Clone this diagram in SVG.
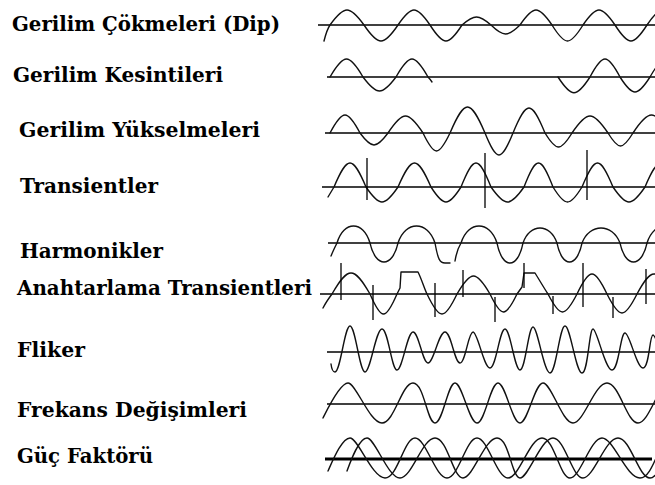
<svg xmlns="http://www.w3.org/2000/svg" width="655" height="485" viewBox="0 0 655 485">
<style>
.lbl{font-family:"DejaVu Serif","Liberation Serif",serif;font-weight:bold;font-size:20px;fill:#000}
.ax{stroke:#000;stroke-width:1.5;fill:none}
.w{stroke:#111;stroke-width:1.4;fill:none;stroke-linejoin:round;stroke-linecap:round}
.tk{stroke:#000;stroke-width:1.3}
</style>
<rect width="655" height="485" fill="#fff"/>

<g id="dip">
<text class="lbl" x="12" y="31" textLength="268" lengthAdjust="spacingAndGlyphs">Gerilim Çökmeleri (Dip)</text>
<line class="ax" x1="318" y1="25" x2="655" y2="25"/>
<path class="w" d="M324 41 C326 33 328 28 330 25 C344.4 5 349.6 5 364 25 C378.4 46.3 383.6 46.3 398 25 C411.6 5 416.4 5 430 25 C443.6 46.3 448.4 46.3 462 25 C474.3 14.3 478.7 14.3 491 25 C503.3 37 507.7 37 520 25 C533.6 5 538.4 5 552 25 C565.2 46.3 569.8 46.3 583 25 C596.6 5 601.4 5 615 25 C628.6 46.3 633.4 46.3 647 25 C660.6 5 665.4 5 679 25"/>
</g>

<g id="kesinti">
<text class="lbl" x="13" y="82" textLength="210" lengthAdjust="spacingAndGlyphs">Gerilim Kesintileri</text>
<line class="ax" x1="327" y1="77" x2="655" y2="77"/>
<path class="w" d="M330 77 C344 53 349 53 363 77 C377 95.7 382 95.7 396 77 C409.6 53 414.4 53 428 77 Q430 79 432 82"/>
<path class="w" d="M558 77 C571.6 98 576.4 98 590 77 C602.7 53 607.3 53 620 77 C632.7 97 637.3 97 650 77 C663.6 53 668.4 53 682 77"/>
</g>

<g id="yukselme">
<text class="lbl" x="19" y="137" textLength="241" lengthAdjust="spacingAndGlyphs">Gerilim Yükselmeleri</text>
<line class="ax" x1="325" y1="133" x2="655" y2="133"/>
<path class="w" d="M330 133 C342.7 109 347.3 109 360 133 C371.9 149 376.1 149 388 133 C402.9 110.3 408.1 110.3 423 133 C434.5 157 438.5 157 450 133 C464.9 98.3 470.1 98.3 485 133 C496.9 162.3 501.1 162.3 513 133 C526.6 99.7 531.4 99.7 545 133 C556.5 151.7 560.5 151.7 572 133 C587.3 110.3 592.7 110.3 608 133 C618.6 150.3 622.4 150.3 633 133 C648.7 109 654.3 109 670 133"/>
</g>

<g id="transient">
<text class="lbl" x="20" y="193" textLength="138" lengthAdjust="spacingAndGlyphs">Transientler</text>
<line class="ax" x1="322" y1="187" x2="655" y2="187"/>
<path class="w" d="M328 197 L334 187 C347.6 155 352.4 155 366 187 C379.6 207 384.4 207 398 187 C412 155 417 155 431 187 C443.7 207 448.3 207 461 187 C473.7 155 478.3 155 491 187 C505 207 510 207 524 187 C536.3 155 540.7 155 553 187 C565.3 207 569.7 207 582 187 C595.2 155 599.8 155 613 187 C626.6 207 631.4 207 645 187 C658.6 155 663.4 155 677 187"/>
<line class="tk" x1="367" y1="158" x2="367" y2="200"/>
<line class="tk" x1="485" y1="153" x2="485" y2="208"/>
<line class="tk" x1="587" y1="150" x2="587" y2="200"/>
</g>

<g id="harmonik">
<text class="lbl" x="20" y="258" textLength="143" lengthAdjust="spacingAndGlyphs">Harmonikler</text>
<line class="ax" x1="328" y1="243" x2="655" y2="243"/>
<path class="w" d="M331 256 C333 251 335 247 337 243 C343.6 220.3 363.4 220.3 370 243 C375.6 268.3 392.4 268.3 398 243 C405.4 220.3 427.6 220.3 435 243 C438 260 440 263 445 263 L450 263"/>
<path class="w" d="M455 261 C456 255 458 248 461 243 C468.2 220.3 489.8 220.3 497 243 C502.2 269.7 517.8 269.7 523 243 C529.8 223 550.2 223 557 243 C562 268.3 577 268.3 582 243 C589.6 223 612.4 223 620 243 C625.4 268.3 641.6 268.3 647 243 C654.2 220.3 675.8 220.3 683 243"/>
</g>

<g id="anahtarlama">
<text class="lbl" x="17" y="295" textLength="295" lengthAdjust="spacingAndGlyphs">Anahtarlama Transientleri</text>
<line class="ax" x1="320" y1="294" x2="655" y2="294"/>
<path class="w" d="M323 308 C326 302 329 298 332 294 C348.1 266 353.9 266 370 294 C381.5 320.7 385.5 320.7 397 294 L400 288 L401 272 L418 272 C422 280 424 288 427 294 C439.7 320.7 444.3 320.7 457 294 C471 270 476 270 490 294 C501.5 318 505.5 318 517 294 L522 287 L524 273 L535 273 C540 281 544 288 548 294 C560.3 318 564.7 318 577 294 C589.7 267.3 594.3 267.3 607 294 C619.7 319.3 624.3 319.3 637 294 C651.4 267.3 656.6 267.3 671 294"/>
<line class="tk" x1="341" y1="263" x2="341" y2="300"/>
<line class="tk" x1="373" y1="285" x2="373" y2="320"/>
<line class="tk" x1="435" y1="283" x2="435" y2="317"/>
<line class="tk" x1="463" y1="270" x2="463" y2="297"/>
<line class="tk" x1="495" y1="297" x2="495" y2="322"/>
<line class="tk" x1="524" y1="263" x2="524" y2="288"/>
<line class="tk" x1="553" y1="296" x2="553" y2="314"/>
<line class="tk" x1="583" y1="263" x2="583" y2="307"/>
<line class="tk" x1="613" y1="297" x2="613" y2="318"/>
<line class="tk" x1="646" y1="269" x2="646" y2="304"/>
</g>

<g id="fliker">
<text class="lbl" x="17" y="357" textLength="68" lengthAdjust="spacingAndGlyphs">Fliker</text>
<line class="ax" x1="327" y1="352" x2="655" y2="352"/>
<path class="w" d="M331 364 Q332 372 335 372 C340.5 372 344.5 326 350 326 S359.5 372 365 372 S375.8 329 382 329 S391.5 370 397 370 S407.2 332 413 332 S422.5 363 428 363 S438.8 332 445 332 S454.5 363 460 363 S468.3 332 473 332 S483.8 368 490 368 S499.5 329 505 329 S514.5 370 520 370 S528.3 327 533 327 S543.8 373 550 373 S559.5 326 565 326 S575.8 373 582 373 S589 329 593 329 S605.1 370 612 370 S620.3 333 625 333 S636.5 368 643 368 S649.4 335 653 335 S663.8 368 670 368"/>
</g>

<g id="frekans">
<text class="lbl" x="17" y="417" textLength="230" lengthAdjust="spacingAndGlyphs">Frekans Değişimleri</text>
<line class="ax" x1="327" y1="404" x2="655" y2="404"/>
<path class="w" d="M323 418 C327 410 340 383 348 383 S369.6 423 382 423 S401.7 383 413 383 S427 423 435 423 S447.7 383 455 383 S469 423 477 423 S490.4 383 498 383 S512 423 520 423 S534.6 383 543 383 S562.1 423 573 423 S594.6 383 607 383 S626.7 423 638 423 S658.4 383 670 383"/>
</g>

<g id="guc">
<text class="lbl" x="17" y="463" textLength="136" lengthAdjust="spacingAndGlyphs">Güç Faktörü</text>
<line class="ax" x1="325" y1="459" x2="652" y2="459" style="stroke-width:3"/>
<path class="w" d="M328 471 C333 460 342 438 350 438 S372.3 478 385 478 S404.1 438 415 438 S435.4 478 447 478 S466.1 438 477 438 S496.7 478 508 478 S529.6 438 542 438 S559.8 478 570 478 S590.4 438 602 438 S626.2 478 640 478 S659.1 438 670 438"/>
<path class="w" d="M347 471 C351 460 359 438 367 438 S388 478 400 478 S422.3 438 435 438 S452.8 478 463 478 S484.6 438 497 438 S511.6 478 520 478 S541 438 553 438 S572.1 478 583 478 S605.3 438 618 438 S638.4 478 650 478 S669 438 680 438"/>
</g>
</svg>
